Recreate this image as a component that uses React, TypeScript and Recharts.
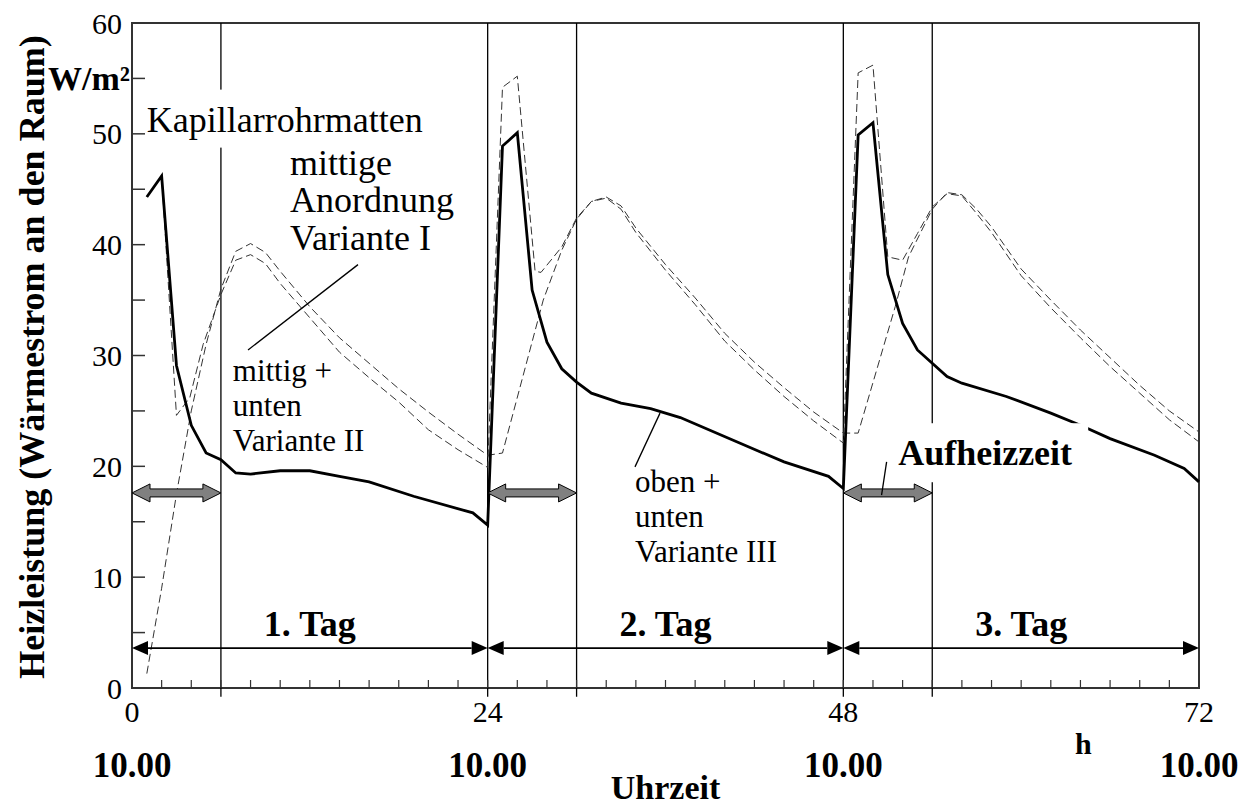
import { LineChart, Line, XAxis, YAxis, ReferenceLine, ReferenceDot, ReferenceArea } from 'recharts'

// Heizleistung über 3 Tage, Kapillarrohrmatten Varianten I–III

const FONT = "'Liberation Serif', 'Times New Roman', serif"

// Variante III (oben + unten), durchgezogen
const hoursIII = [1, 2, 3, 4, 5, 6, 7, 8, 10, 12, 14, 16, 19, 23, 24, 25, 26, 27, 28, 29, 30, 31, 33, 35, 37, 41, 44, 47, 48, 49, 50, 51, 52, 53, 55, 56, 59, 62, 64, 66, 69, 71, 72]
const valuesIII = [44.3, 46.2, 29.1, 23.7, 21.2, 20.6, 19.4, 19.3, 19.6, 19.6, 19.1, 18.6, 17.3, 15.8, 14.7, 48.9, 50.1, 35.9, 31.2, 28.8, 27.6, 26.6, 25.7, 25.2, 24.4, 22.1, 20.4, 19.1, 18.0, 49.9, 51.0, 37.3, 32.9, 30.5, 28.1, 27.5, 26.3, 24.8, 23.7, 22.5, 21.0, 19.8, 18.6]

// gestrichelt, mit Spitze am Tagesbeginn
const hoursA = [1, 2, 3, 3.9, 4.8, 6, 7, 8, 9, 10, 12, 14, 16, 18, 20, 22, 24, 25, 26, 27.2, 27.6, 29, 30, 31, 32, 33, 34, 36, 38, 40, 42, 44, 46, 48, 49, 50, 51, 52, 53, 54, 55, 56, 57, 58, 60, 62, 64, 66, 68, 70, 72]
const valuesA = [44.3, 46.2, 24.6, 26.2, 31.0, 35.5, 38.6, 39.1, 38.3, 36.5, 33.4, 30.3, 28.0, 25.8, 23.3, 21.5, 19.9, 54.2, 55.2, 37.6, 37.5, 39.8, 42.4, 43.9, 44.2, 43.2, 41.1, 37.7, 34.6, 31.3, 28.7, 26.3, 24.1, 22.1, 55.5, 56.2, 38.9, 38.6, 41.0, 43.4, 44.6, 44.4, 42.8, 41.1, 37.2, 34.3, 31.6, 29.0, 26.6, 24.2, 22.2]

// gestrichelt, ohne Spitze
const hoursB = [1, 2, 3, 4, 5, 6, 7, 8, 9, 10, 12, 14, 16, 18, 20, 22, 24, 25, 27.75, 29, 30, 31, 32, 33, 34, 36, 38, 40, 42, 44, 46, 48, 49, 51.5, 52.4, 54, 55, 56, 57, 58, 60, 62, 64, 66, 68, 70, 72]
const valuesB = [1.3, 9.0, 17.5, 25.0, 31.0, 36.0, 39.4, 40.1, 39.3, 37.6, 34.4, 31.6, 29.3, 27.0, 24.9, 22.9, 21.0, 21.2, 35.0, 39.5, 42.3, 43.9, 44.3, 43.5, 41.5, 38.2, 35.2, 32.0, 29.4, 27.1, 24.9, 23.0, 23.0, 34.4, 38.9, 43.2, 44.7, 44.5, 43.2, 41.6, 37.8, 35.0, 32.3, 29.8, 27.3, 25.0, 23.1]

const xTicks = [0, 2, 4, 6, 8, 10, 12, 14, 16, 18, 20, 22, 24, 26, 28, 30, 32, 34, 36, 38, 40, 42, 44, 46, 48, 50, 52, 54, 56, 58, 60, 62, 64, 66, 68, 70, 72]
const yTicks = [0, 5, 10, 15, 20, 25, 30, 35, 40, 45, 50, 55, 60]
const dayStarts = [0, 24, 48]
const heatEnds = [6, 30, 54]
const dayLabels = ['1. Tag', '2. Tag', '3. Tag']

const toRows = (hs: number[], vs: number[]) => hs.map((h, i) => ({ h, v: vs[i] }))

const dataIII = toRows(hoursIII, valuesIII)
const dataA = toRows(hoursA, valuesA)
const dataB = toRows(hoursB, valuesB)

function YTick({ x, y, payload }: any) {
  const v = payload.value
  return (
    <g>
      <line x1={x + 10} x2={x + 23} y1={y} y2={y} stroke="#333" strokeWidth={1.5} />
      {v % 10 === 0 && (
        <text x={x} y={y} dy="0.35em" textAnchor="end" fontSize={30} fontFamily={FONT} fill="#000">{v}</text>
      )}
      {v === 55 && (
        <text x={x + 8} y={y} dy="0.35em" textAnchor="end" fontSize={34} fontWeight="bold" fontFamily={FONT} fill="#000">W/m²</text>
      )}
    </g>
  )
}

function XTick({ x, y, payload }: any) {
  const v = payload.value
  return (
    <g>
      {v > 0 && v < 72 && <line x1={x} x2={x} y1={y} y2={y - 8} stroke="#333" strokeWidth={1.2} />}
      {v % 24 === 0 && (
        <>
          <text x={x} y={y + 34} textAnchor="middle" fontSize={30} fontFamily={FONT} fill="#000">{v}</text>
          <text x={x} y={y + 89} textAnchor="middle" fontSize={35} fontWeight="bold" fontFamily={FONT} fill="#000">10.00</text>
        </>
      )}
      {v === 64 && (
        <text x={x + 3} y={y + 66} textAnchor="middle" fontSize={30} fontWeight="bold" fontFamily={FONT} fill="#000">h</text>
      )}
    </g>
  )
}

// schwarzer Doppelpfeil (Tag)
function DayArrow(p: any) {
  const { x1, x2, y1 } = p
  const a = 16
  const w = 7
  return (
    <g>
      <line x1={x1 + a} x2={x2 - a} y1={y1} y2={y1} stroke="#000" strokeWidth={1.6} />
      <polygon points={`${x1},${y1} ${x1 + a},${y1 - w} ${x1 + a},${y1 + w}`} fill="#000" />
      <polygon points={`${x2},${y1} ${x2 - a},${y1 - w} ${x2 - a},${y1 + w}`} fill="#000" />
    </g>
  )
}

// grauer Doppelpfeil (Aufheizzeit)
function HeatArrow(p: any) {
  const { x1, x2, y1 } = p
  const a = 18
  const s = 4
  const w = 9
  const pts = [
    [x1, y1], [x1 + a, y1 - w], [x1 + a, y1 - s], [x2 - a, y1 - s], [x2 - a, y1 - w],
    [x2, y1], [x2 - a, y1 + w], [x2 - a, y1 + s], [x1 + a, y1 + s], [x1 + a, y1 + w],
  ].map((q) => q.join(',')).join(' ')
  return <polygon points={pts} fill="#808080" stroke="#000" strokeWidth={1} />
}

function note(lines: string[], gap: number, size = 36, bold = false, box?: [number, number]) {
  return (p: any) => {
    const { cx, cy } = p
    return (
      <g>
        {box && <rect x={cx - 6} y={cy - 42} width={box[0]} height={box[1]} fill="#fff" />}
        {lines.map((t, i) => (
          <text key={i} x={cx} y={cy + i * gap} fontSize={size} fontWeight={bold ? 'bold' : 'normal'} fontFamily={FONT} fill="#000">{t}</text>
        ))}
      </g>
    )
  }
}

function YTitle({ viewBox }: any) {
  const cx = viewBox.x + 32
  const cy = 357
  return (
    <text x={cx} y={cy} transform={`rotate(-90 ${cx} ${cy})`} textAnchor="middle" dominantBaseline="central" fontSize={36} fontWeight="bold" fontFamily={FONT} fill="#000">
      Heizleistung (Wärmestrom an den Raum)
    </text>
  )
}

function XTitle({ viewBox }: any) {
  return (
    <text x={viewBox.x + viewBox.width / 2} y={viewBox.y + 111} textAnchor="middle" fontSize={34} fontWeight="bold" fontFamily={FONT} fill="#000">
      Uhrzeit
    </text>
  )
}

export default function App() {
  return (
    <div style={{ position: 'absolute', left: 0, top: 0, background: '#fff' }}>
      <LineChart width={1243} height={807} margin={{ top: 23, right: 44, left: 0, bottom: 0 }}>
        <XAxis
          dataKey="h"
          type="number"
          domain={[0, 72]}
          ticks={xTicks}
          interval={0}
          tickSize={0}
          tickMargin={0}
          axisLine={false}
          height={119}
          tick={<XTick />}
          label={<XTitle />}
          allowDuplicatedCategory={false}
        />
        <YAxis
          type="number"
          domain={[0, 60]}
          ticks={yTicks}
          interval={0}
          tickSize={0}
          tickMargin={10}
          axisLine={false}
          width={132}
          tick={<YTick />}
          label={<YTitle />}
        />
        <ReferenceArea x1={0} x2={72} y1={0} y2={60} fill="none" stroke="#333" strokeWidth={2} />

        {[...dayStarts.slice(1), ...heatEnds].map((h) => (
          <ReferenceLine key={'v' + h} segment={[{ x: h, y: -0.8 }, { x: h, y: 60 }]} stroke="#000" strokeWidth={1.3} ifOverflow="visible" />
        ))}

        <Line data={dataB} dataKey="v" type="linear" stroke="#333" strokeWidth={1} strokeDasharray="8 4" dot={false} isAnimationActive={false} />
        <Line data={dataA} dataKey="v" type="linear" stroke="#333" strokeWidth={1} strokeDasharray="8 4" dot={false} isAnimationActive={false} />
        <Line data={dataIII} dataKey="v" type="linear" stroke="#000" strokeWidth={2.8} dot={false} isAnimationActive={false} />

        {dayStarts.map((d) => (
          <ReferenceLine key={'d' + d} segment={[{ x: d, y: 3.6 }, { x: d + 24, y: 3.6 }]} shape={<DayArrow />} ifOverflow="visible" />
        ))}
        {dayStarts.map((d, i) => (
          <ReferenceDot key={'t' + d} x={d + 12} y={4.7} r={0} shape={(p: any) => (
            <text x={p.cx} y={p.cy} textAnchor="middle" fontSize={36} fontWeight="bold" fontFamily={FONT} fill="#000">{dayLabels[i]}</text>
          )} />
        ))}
        {dayStarts.map((d, i) => (
          <ReferenceLine key={'a' + d} segment={[{ x: d, y: 17.6 }, { x: heatEnds[i], y: 17.6 }]} shape={<HeatArrow />} ifOverflow="visible" />
        ))}

        <ReferenceDot x={1} y={50.2} r={0} shape={note(['Kapillarrohrmatten'], 0, 36, false, [290, 58])} />
        <ReferenceDot x={10.66} y={46.3} r={0} shape={note(['mittige', 'Anordnung', 'Variante I'], 37.5)} />
        <ReferenceLine segment={[{ x: 15.25, y: 38.2 }, { x: 7.83, y: 30.5 }]} stroke="#000" strokeWidth={1.3} />
        <ReferenceDot x={6.8} y={27.7} r={0} shape={note(['mittig +', 'unten', 'Variante II'], 35, 31)} />
        <ReferenceDot x={33.94} y={17.7} r={0} shape={note(['oben +', 'unten', 'Variante III'], 35, 31)} />
        <ReferenceLine segment={[{ x: 35.63, y: 24.8 }, { x: 33.94, y: 19.95 }]} stroke="#000" strokeWidth={1.3} />
        <ReferenceDot x={51.7} y={20.1} r={0} shape={note(['Aufheizzeit'], 0, 36, true, [196, 59])} />
        <ReferenceLine segment={[{ x: 50.92, y: 20.4 }, { x: 50.58, y: 17.4 }]} stroke="#000" strokeWidth={1.3} />
      </LineChart>
    </div>
  )
}
